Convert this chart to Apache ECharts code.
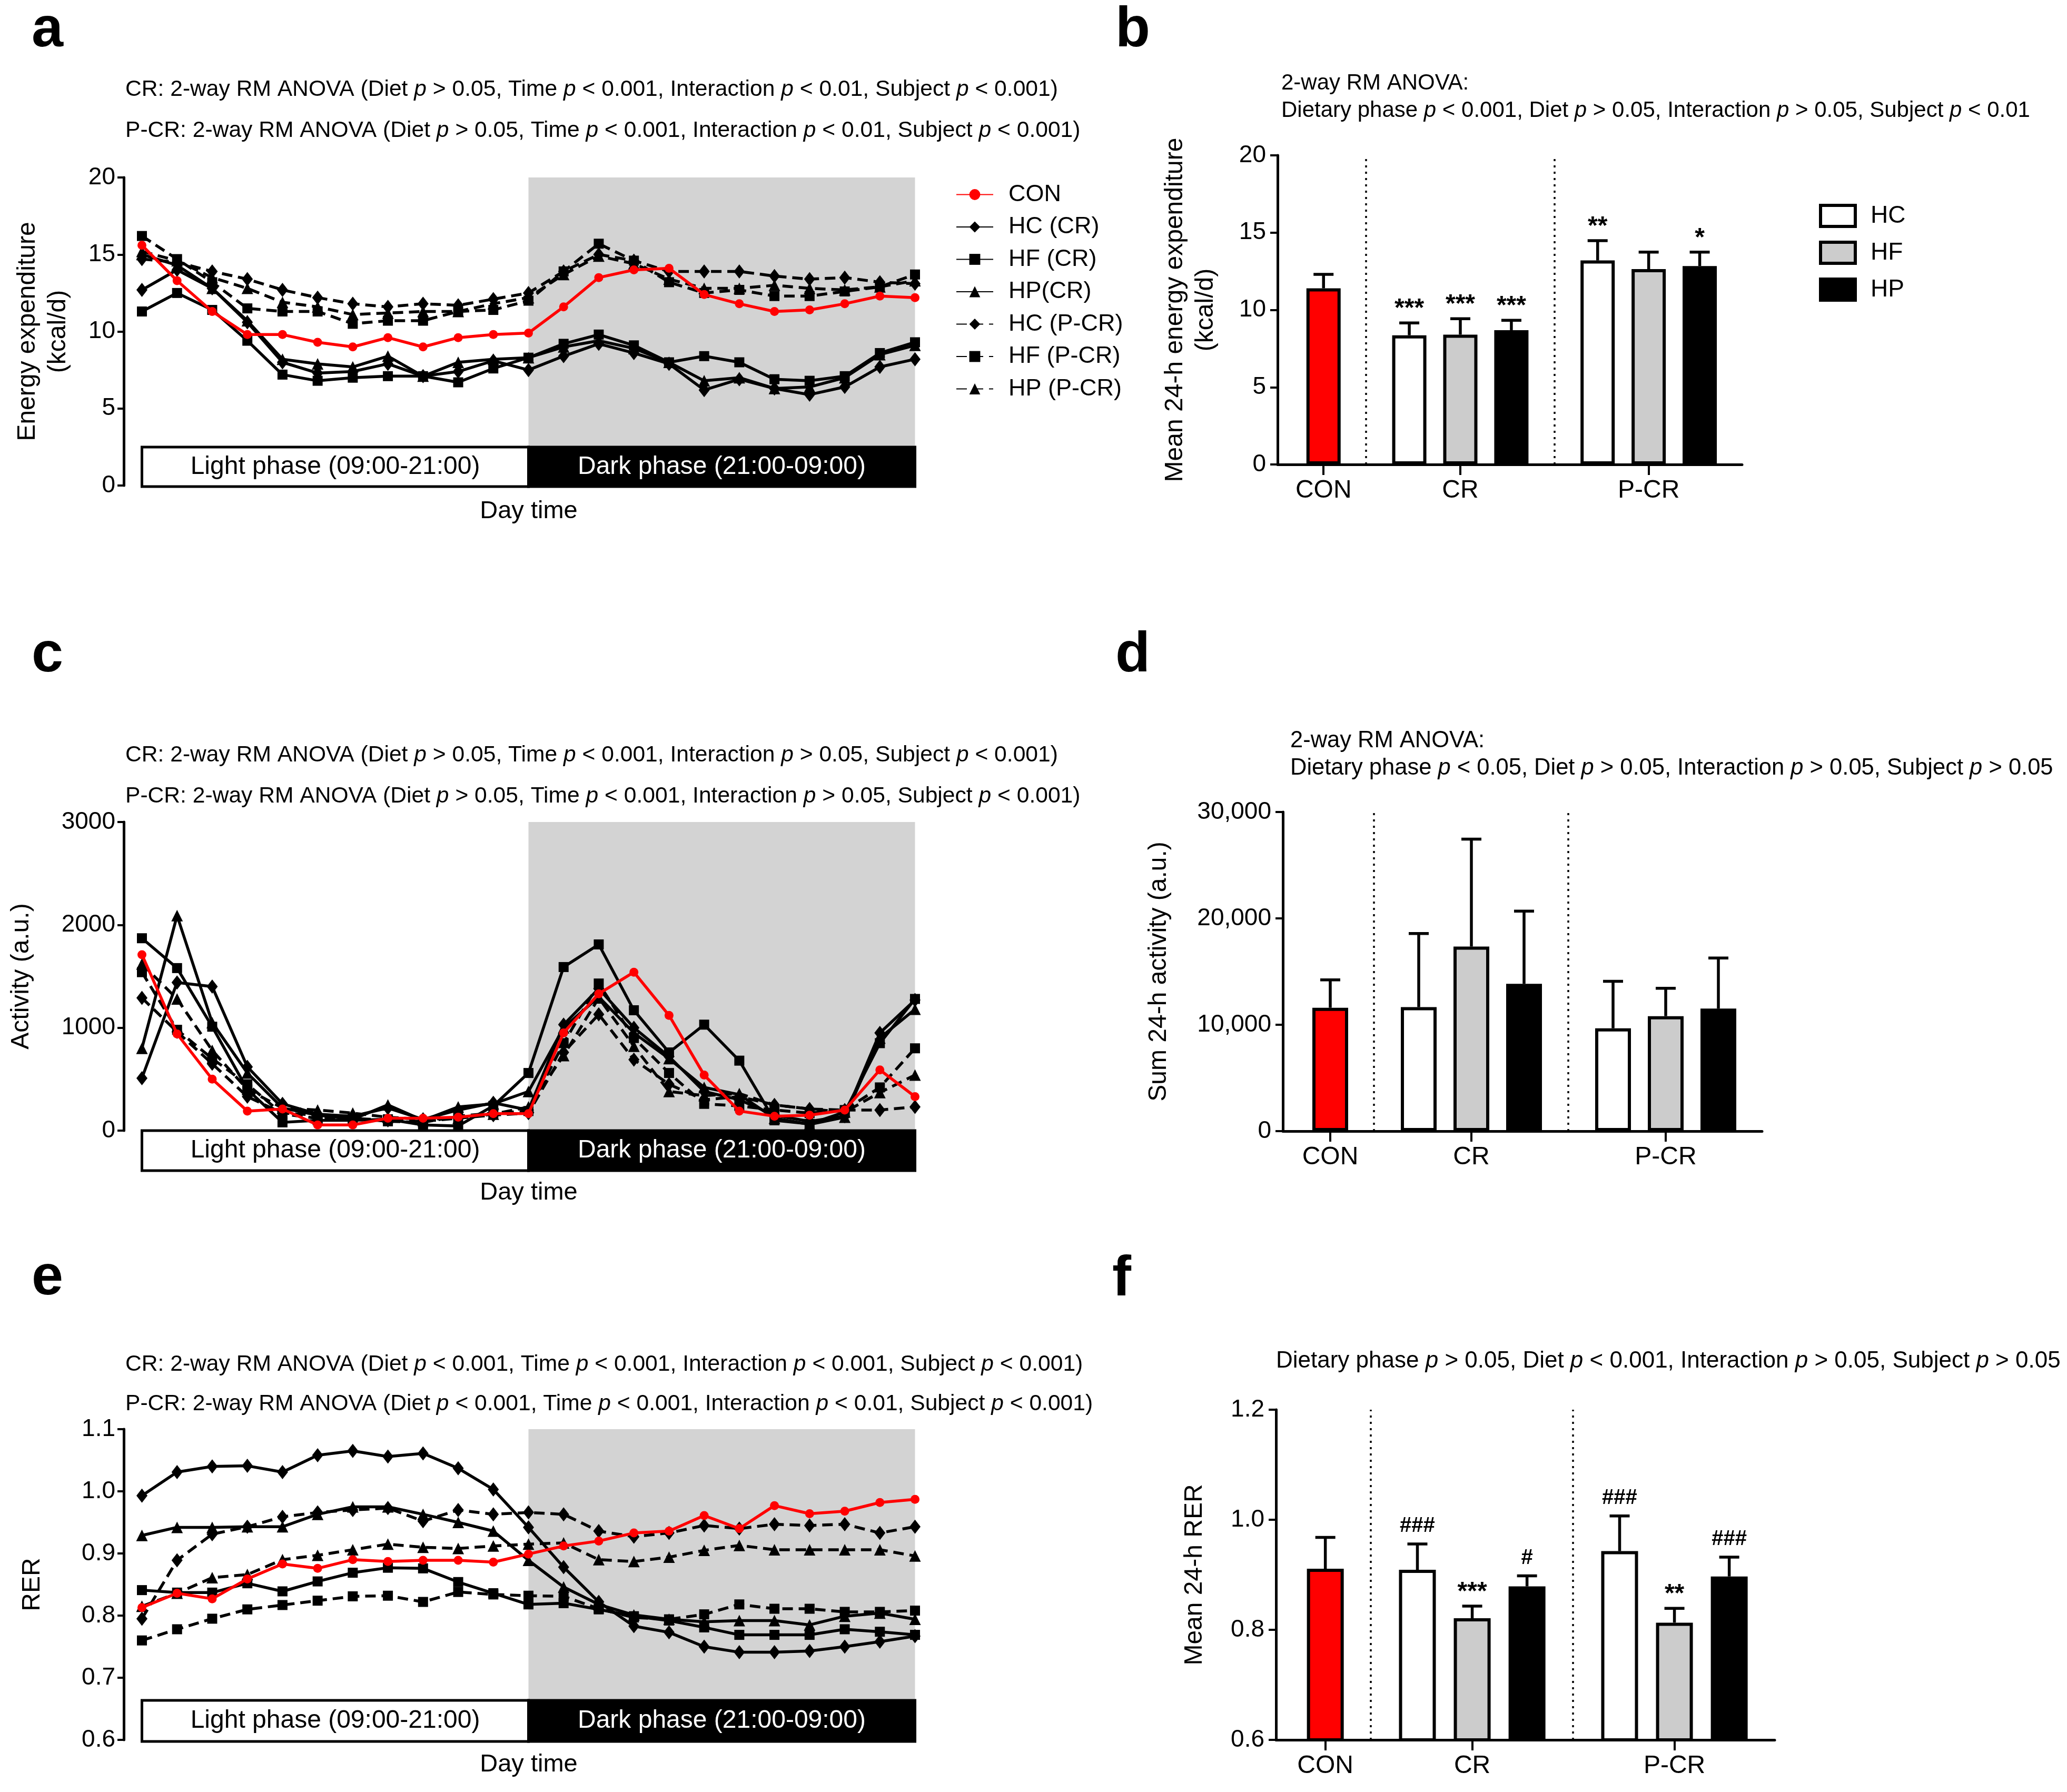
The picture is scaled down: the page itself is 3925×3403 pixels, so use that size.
<!DOCTYPE html>
<html>
<head>
<meta charset="utf-8">
<title>Energy expenditure, activity and RER</title>
<script src="https://cdn.jsdelivr.net/npm/echarts@6/dist/echarts.min.js"></script>
<style>
  html, body { margin: 0; padding: 0; background: #fff; }
  #chart { width: 3925px; height: 3403px; }
</style>
</head>
<body>
<div id="chart"></div>
<script>
// ---- data ----
const timePoints = ['10:00', '11:00', '12:00', '13:00', '14:00', '15:00', '16:00', '17:00', '18:00', '19:00', '20:00',
  '21:00', '22:00', '23:00', '00:00', '01:00', '02:00', '03:00', '04:00', '05:00', '06:00', '07:00', '08:00']
const lineGroups = ['CON', 'HC (CR)', 'HF (CR)', 'HP(CR)', 'HC (P-CR)', 'HF (P-CR)', 'HP (P-CR)']
const phaseNames = ['Light phase (09:00-21:00)', 'Dark phase (21:00-09:00)']
const darkStart = '21:00'

// a: energy expenditure (kcal/d)
const eeCON = [15.6, 13.3, 11.3, 9.8, 9.8, 9.3, 9.0, 9.6, 9.0, 9.6, 9.8, 9.9, 11.6, 13.5, 14.0, 14.1, 12.4, 11.8, 11.3, 11.4, 11.8, 12.3, 12.2]
const eeHC_CR = [12.7, 14.0, 12.8, 10.6, 8.0, 7.3, 7.4, 7.9, 7.1, 7.4, 8.1, 7.5, 8.4, 9.2, 8.6, 7.9, 6.2, 6.9, 6.3, 5.9, 6.4, 7.7, 8.2]
const eeHF_CR = [11.3, 12.5, 11.4, 9.4, 7.2, 6.8, 7.0, 7.1, 7.1, 6.7, 7.6, 8.3, 9.2, 9.8, 9.1, 8.0, 8.4, 8.0, 6.9, 6.8, 7.1, 8.6, 9.3]
const eeHP_CR = [15.0, 14.3, 12.8, 10.7, 8.2, 7.9, 7.7, 8.4, 7.1, 8.0, 8.2, 8.3, 9.0, 9.4, 8.9, 8.0, 6.8, 7.0, 6.3, 6.4, 7.0, 8.5, 9.1]
const eeHC_PCR = [14.7, 14.5, 13.9, 13.4, 12.7, 12.2, 11.8, 11.6, 11.8, 11.7, 12.1, 12.5, 13.9, 15.0, 14.6, 13.9, 13.9, 13.9, 13.6, 13.4, 13.5, 13.2, 13.1]
const eeHF_PCR = [16.2, 14.7, 13.2, 11.5, 11.3, 11.3, 10.5, 10.7, 10.7, 11.3, 11.4, 12.0, 13.9, 15.7, 14.6, 13.2, 12.5, 12.7, 12.3, 12.3, 12.6, 12.9, 13.7]
const eeHP_PCR = [15.2, 14.6, 13.5, 12.8, 11.9, 11.6, 11.1, 11.2, 11.3, 11.3, 11.8, 12.2, 13.7, 14.9, 14.4, 13.4, 12.8, 12.8, 13.0, 12.8, 12.7, 12.9, 13.3]

// c: activity (a.u.)
const actCON = [1710, 940, 500, 190, 210, 55, 55, 120, 120, 130, 165, 165, 950, 1330, 1540, 1120, 540, 190, 140, 150, 200, 590, 330]
const actHC_CR = [510, 1440, 1400, 620, 260, 160, 140, 220, 110, 200, 270, 200, 1030, 1380, 1000, 720, 380, 300, 150, 90, 140, 950, 1270]
const actHF_CR = [1870, 1580, 1010, 400, 80, 100, 100, 110, 55, 45, 240, 560, 1590, 1810, 1170, 760, 1030, 680, 100, 65, 180, 850, 1280]
const actHP_CR = [800, 2090, 1050, 560, 220, 150, 110, 250, 100, 230, 260, 380, 1000, 1300, 950, 700, 420, 350, 120, 60, 130, 900, 1180]
const actHC_PCR = [1290, 960, 650, 330, 170, 150, 120, 100, 90, 120, 150, 170, 760, 1130, 690, 450, 300, 330, 250, 210, 200, 200, 230]
const actHF_PCR = [1540, 980, 700, 450, 160, 120, 120, 90, 80, 140, 170, 190, 850, 1430, 900, 560, 260, 240, 200, 170, 200, 420, 800]
const actHP_PCR = [1620, 1280, 780, 400, 220, 200, 170, 130, 110, 120, 160, 230, 730, 1290, 820, 380, 340, 360, 250, 210, 180, 370, 540]

// e: RER
const rerCON = [0.813, 0.836, 0.827, 0.859, 0.883, 0.876, 0.890, 0.887, 0.889, 0.889, 0.886, 0.899, 0.912, 0.920, 0.933, 0.936, 0.961, 0.940, 0.977, 0.964, 0.968, 0.982, 0.987]
const rerHC_CR = [0.993, 1.031, 1.040, 1.041, 1.031, 1.058, 1.065, 1.056, 1.061, 1.037, 1.003, 0.942, 0.878, 0.822, 0.783, 0.773, 0.750, 0.741, 0.741, 0.743, 0.750, 0.758, 0.767]
const rerHF_CR = [0.841, 0.837, 0.837, 0.852, 0.839, 0.855, 0.869, 0.877, 0.876, 0.854, 0.836, 0.818, 0.820, 0.810, 0.799, 0.792, 0.781, 0.769, 0.769, 0.769, 0.778, 0.774, 0.769]
const rerHP_CR = [0.929, 0.942, 0.942, 0.943, 0.943, 0.963, 0.975, 0.975, 0.963, 0.950, 0.936, 0.889, 0.846, 0.818, 0.801, 0.794, 0.790, 0.792, 0.792, 0.785, 0.799, 0.804, 0.794]
const rerHC_PCR = [0.795, 0.889, 0.931, 0.943, 0.959, 0.966, 0.970, 0.973, 0.952, 0.970, 0.963, 0.966, 0.963, 0.936, 0.927, 0.933, 0.945, 0.940, 0.947, 0.945, 0.947, 0.933, 0.943]
const rerHF_PCR = [0.760, 0.778, 0.795, 0.810, 0.817, 0.824, 0.831, 0.832, 0.822, 0.838, 0.834, 0.832, 0.831, 0.811, 0.797, 0.794, 0.802, 0.818, 0.811, 0.811, 0.806, 0.806, 0.808]
const rerHP_PCR = [0.815, 0.836, 0.861, 0.866, 0.890, 0.897, 0.906, 0.915, 0.910, 0.908, 0.912, 0.915, 0.917, 0.890, 0.887, 0.894, 0.905, 0.913, 0.906, 0.906, 0.906, 0.906, 0.896]

// bar panels: one entry per bar, in drawing order
const barGroups = ['CON', 'CR', 'P-CR']
const barDiets = ['CON', 'HC', 'HF', 'HP', 'HC', 'HF', 'HP']
const eeMean = [11.4, 8.36, 8.4, 8.69, 13.2, 12.64, 12.84]
const eeErr = [0.9, 0.8, 1.03, 0.64, 1.28, 1.1, 0.9]
const eeSig = ['', '***', '***', '***', '**', '', '*']
const actMean = [11600, 11660, 17350, 13850, 9670, 10810, 11520]
const actErr = [2620, 6920, 10100, 6830, 4410, 2620, 4750]
const actSig = ['', '', '', '', '', '', '']
const rerMean = [0.911, 0.909, 0.821, 0.879, 0.943, 0.813, 0.897]
const rerErr = [0.057, 0.047, 0.022, 0.019, 0.064, 0.026, 0.035]
const rerSig = ['', '###', '***', '#', '###', '**', '###']

// ---- styles & layout ----
const FONT = "'Liberation Sans', Arial, Helvetica, sans-serif"
const DASH = [20, 11]
const LINE_STYLE = {
  'CON': { color: '#ff0000', symbol: 'circle', size: 17, type: 'solid', width: 5.5 },
  'HC (CR)': { color: '#000', symbol: 'diamond', size: [21, 27], type: 'solid', width: 5.5 },
  'HF (CR)': { color: '#000', symbol: 'rect', size: 19, type: 'solid', width: 5.5 },
  'HP(CR)': { color: '#000', symbol: 'triangle', size: 22, type: 'solid', width: 5.5 },
  'HC (P-CR)': { color: '#000', symbol: 'diamond', size: [21, 27], type: DASH, width: 5.5 },
  'HF (P-CR)': { color: '#000', symbol: 'rect', size: 19, type: DASH, width: 5.5 },
  'HP (P-CR)': { color: '#000', symbol: 'triangle', size: 22, type: DASH, width: 5.5 },
}
const BAR_COLOR = { CON: '#ff0000', HC: '#ffffff', HF: '#cccccc', HP: '#000000' }
const BAR_X = [0, 1.68, 2.68, 3.68, 5.37, 6.37, 7.37]
const GROUP_X = [0, 2.68, 6.37]
const SEP_X = [0.83, 4.52]

const LINE_LEFT = 269.5, LINE_W = 1468
const plain = v => String(v)
const linePanels = [
  { top: 337, h: 585, phaseTop: 849, phaseH: 75, min: 0, max: 20, step: 5, name: 'Energy expenditure\n(kcal/d)', gap: 95,
    fmt: plain, data: [eeCON, eeHC_CR, eeHF_CR, eeHP_CR, eeHC_PCR, eeHF_PCR, eeHP_PCR] },
  { top: 1561, h: 586, phaseTop: 2147, phaseH: 76, min: 0, max: 3000, step: 1000, name: 'Activity (a.u.)', gap: 165,
    fmt: plain, data: [actCON, actHC_CR, actHF_CR, actHP_CR, actHC_PCR, actHF_PCR, actHP_PCR] },
  { top: 2714, h: 590, phaseTop: 3229, phaseH: 78, min: 0.6, max: 1.1, step: 0.1, name: 'RER', gap: 144, fmt: v => v.toFixed(1),
    data: [rerCON, rerHC_CR, rerHF_CR, rerHP_CR, rerHC_PCR, rerHF_PCR, rerHP_PCR] },
]
const barPanels = [
  { left: 2426, w: 882, top: 295, h: 587, barW: 65, min: 0, max: 20, step: 5, name: 'Mean 24-h energy expenditure\n(kcal/d)', gap: 107,
    fmt: plain, mean: eeMean, err: eeErr, sig: eeSig },
  { left: 2436, w: 910, top: 1542, h: 606, barW: 68, min: 0, max: 30000, step: 10000, name: 'Sum 24-h activity (a.u.)', gap: 206,
    fmt: v => v.toLocaleString('en-US'), mean: actMean, err: actErr, sig: actSig },
  { left: 2423, w: 947, top: 2677, h: 627, barW: 70, min: 0.6, max: 1.2, step: 0.2, name: 'Mean 24-h RER', gap: 125,
    fmt: v => v.toFixed(1), mean: rerMean, err: rerErr, sig: rerSig },
]

const grids = [], xAxes = [], yAxes = [], series = []
const axisLine = { show: true, onZero: false, lineStyle: { color: '#000', width: 5 } }
const axisTick = { show: true, length: 12, lineStyle: { color: '#000', width: 4 } }
const nameStyle = { fontSize: 48, fontFamily: FONT, color: '#000', lineHeight: 58 }

linePanels.forEach(p => {
  const main = grids.length
  grids.push({ left: LINE_LEFT, width: LINE_W, top: p.top, height: p.h })
  xAxes.push({ type: 'category', gridIndex: main, data: timePoints, boundaryGap: false, show: false })
  yAxes.push({ type: 'value', gridIndex: main, min: p.min, max: p.max, interval: p.step, offset: 34.5,
    axisLine, axisTick, splitLine: { show: false },
    axisLabel: { fontSize: 46, fontFamily: FONT, color: '#000', margin: 16, formatter: p.fmt },
    name: p.name, nameLocation: 'middle', nameGap: p.gap, nameTextStyle: nameStyle })
  // grey dark-phase band
  series.push({ type: 'line', xAxisIndex: main, yAxisIndex: main, data: [], z: 0, silent: true,
    markArea: { silent: true, itemStyle: { color: '#d3d3d3' },
      data: [[{ xAxis: darkStart }, { xAxis: timePoints[timePoints.length - 1] }]] } })
  lineGroups.forEach((g, i) => {
    const s = LINE_STYLE[g]
    series.push({ type: 'line', name: g, xAxisIndex: main, yAxisIndex: main, data: p.data[i], clip: false,
      symbol: s.symbol, symbolSize: s.size, z: g === 'CON' ? 4 : 3,
      lineStyle: { color: s.color, width: s.width, type: s.type },
      itemStyle: { color: s.color, borderWidth: 0 } })
  })
  // phase bar below / inside the plot
  const ph = grids.length
  grids.push({ left: LINE_LEFT, width: LINE_W, top: p.phaseTop, height: p.phaseH })
  xAxes.push({ type: 'category', gridIndex: ph, data: timePoints, boundaryGap: false, show: false })
  yAxes.push({ type: 'value', gridIndex: ph, min: 0, max: 1, show: false })
  const phaseLabel = c => ({ show: true, position: 'inside', color: c, fontSize: 48, fontFamily: FONT })
  series.push({ type: 'line', xAxisIndex: ph, yAxisIndex: ph, data: [], z: 6, silent: true,
    markArea: { silent: true, data: [
      [{ xAxis: timePoints[0], yAxis: 0, name: phaseNames[0], itemStyle: { color: '#fff', borderColor: '#000', borderWidth: 5 }, label: phaseLabel('#000') },
       { xAxis: darkStart, yAxis: 1 }],
      [{ xAxis: darkStart, yAxis: 0, name: phaseNames[1], itemStyle: { color: '#000', borderColor: '#000', borderWidth: 5 }, label: phaseLabel('#fff') },
       { xAxis: timePoints[timePoints.length - 1], yAxis: 1 }],
    ] } })
})

barPanels.forEach(p => {
  const k = grids.length
  grids.push({ left: p.left, width: p.w, top: p.top, height: p.h })
  xAxes.push({ type: 'value', gridIndex: k, min: -0.9, max: 8.2, splitLine: { show: false },
    axisLine: { show: true, onZero: false, lineStyle: { color: '#000', width: 5 } },
    axisTick: { show: true, customValues: GROUP_X, length: 20, lineStyle: { color: '#000', width: 4 } },
    axisLabel: { customValues: GROUP_X, fontSize: 48, fontFamily: FONT, color: '#000', margin: 26,
      formatter: v => barGroups[GROUP_X.reduce((b, x, i) => Math.abs(x - v) < Math.abs(GROUP_X[b] - v) ? i : b, 0)] } })
  yAxes.push({ type: 'value', gridIndex: k, min: p.min, max: p.max, interval: p.step,
    axisLine, axisTick: { show: true, length: 14, lineStyle: { color: '#000', width: 4 } }, splitLine: { show: false },
    axisLabel: { fontSize: 46, fontFamily: FONT, color: '#000', margin: 22, formatter: p.fmt },
    name: p.name, nameLocation: 'middle', nameGap: p.gap, nameTextStyle: nameStyle })
  ;['CON', 'HC', 'HF', 'HP'].forEach(d => {
    const items = []
    barDiets.forEach((bd, i) => { if (bd === d) items.push([BAR_X[i], p.mean[i]]) })
    const s = { type: 'bar', name: d === 'CON' ? 'CON bar' : d, xAxisIndex: k, yAxisIndex: k, data: items,
      barWidth: p.barW, barGap: '-100%', z: 3,
      itemStyle: { color: BAR_COLOR[d], borderColor: '#000', borderWidth: 6 } }
    if (d === 'CON') {
      s.markLine = { silent: true, symbol: 'none', label: { show: false },
        lineStyle: { color: '#000', width: 3.5, type: [4, 8] }, data: SEP_X.map(x => ({ xAxis: x })) }
    }
    series.push(s)
  })
  series.push({ type: 'custom', xAxisIndex: k, yAxisIndex: k, z: 5, clip: false, silent: true,
    data: p.mean.map((m, i) => [BAR_X[i], m, p.err[i]]),
    renderItem(params, api) {
      const x = api.value(0), m = api.value(1), e = api.value(2)
      const lo = api.coord([x, m]), hi = api.coord([x, m + e])
      const ln = { stroke: '#000', lineWidth: 5.5 }
      const children = [
        { type: 'line', shape: { x1: lo[0], y1: lo[1], x2: hi[0], y2: hi[1] }, style: ln },
        { type: 'line', shape: { x1: hi[0] - 19, y1: hi[1], x2: hi[0] + 19, y2: hi[1] }, style: ln },
      ]
      const mark = p.sig[params.dataIndex]
      if (mark) {
        const hash = mark.indexOf('#') >= 0
        children.push({ type: 'text', x: hi[0], y: hi[1] - (hash ? 14 : 2),
          style: { text: mark, fontSize: hash ? 40 : 48, fontWeight: 'bold', fontFamily: FONT, fill: '#000',
            align: 'center', verticalAlign: 'bottom', textAlign: 'center', textVerticalAlign: 'bottom' } })
      }
      return { type: 'group', children }
    } })
})

// ---- texts ----
function text(x, y, str, size, extra) {
  return Object.assign({ type: 'text', x, y, silent: true, z: 10,
    style: Object.assign({ text: str, fontSize: size, fontFamily: FONT, fill: '#000',
      align: 'left', verticalAlign: 'middle', textAlign: 'left', textVerticalAlign: 'middle',
      rich: { i: { fontStyle: 'italic', fontSize: size, fontFamily: FONT, fill: '#000' } } }, extra || {}) })
}
const P = '{i|p}'
const graphics = [
  text(60, 58, 'a', 108, { fontWeight: 'bold' }),
  text(2118, 58, 'b', 108, { fontWeight: 'bold' }),
  text(60, 1245, 'c', 108, { fontWeight: 'bold' }),
  text(2118, 1245, 'd', 108, { fontWeight: 'bold' }),
  text(60, 2428, 'e', 108, { fontWeight: 'bold' }),
  text(2112, 2430, 'f', 108, { fontWeight: 'bold' }),
  text(238, 170, `CR: 2-way RM ANOVA (Diet ${P} > 0.05, Time ${P} < 0.001, Interaction ${P} < 0.01, Subject ${P} < 0.001)`, 42.6),
  text(238, 248, `P-CR: 2-way RM ANOVA (Diet ${P} > 0.05, Time ${P} < 0.001, Interaction ${P} < 0.01, Subject ${P} < 0.001)`, 42.6),
  text(238, 1434, `CR: 2-way RM ANOVA (Diet ${P} > 0.05, Time ${P} < 0.001, Interaction ${P} > 0.05, Subject ${P} < 0.001)`, 42.6),
  text(238, 1512, `P-CR: 2-way RM ANOVA (Diet ${P} > 0.05, Time ${P} < 0.001, Interaction ${P} > 0.05, Subject ${P} < 0.001)`, 42.6),
  text(238, 2591, `CR: 2-way RM ANOVA (Diet ${P} < 0.001, Time ${P} < 0.001, Interaction ${P} < 0.001, Subject ${P} < 0.001)`, 42.6),
  text(238, 2666, `P-CR: 2-way RM ANOVA (Diet ${P} < 0.001, Time ${P} < 0.001, Interaction ${P} < 0.01, Subject ${P} < 0.001)`, 42.6),
  text(2433, 158, '2-way RM ANOVA:', 42),
  text(2433, 210, `Dietary phase ${P} < 0.001, Diet ${P} > 0.05, Interaction ${P} > 0.05, Subject ${P} < 0.01`, 42),
  text(2450, 1407, '2-way RM ANOVA:', 43.5),
  text(2450, 1459, `Dietary phase ${P} < 0.05, Diet ${P} > 0.05, Interaction ${P} > 0.05, Subject ${P} > 0.05`, 43.5),
  text(2423, 2585, `Dietary phase ${P} > 0.05, Diet ${P} < 0.001, Interaction ${P} > 0.05, Subject ${P} > 0.05`, 44),
  text(1004, 971, 'Day time', 47, { align: 'center', textAlign: 'center' }),
  text(1004, 2265, 'Day time', 47, { align: 'center', textAlign: 'center' }),
  text(1004, 3351, 'Day time', 47, { align: 'center', textAlign: 'center' }),
]

const chart = echarts.init(document.getElementById('chart'))
chart.setOption({
  animation: false,
  backgroundColor: '#fff',
  grid: grids,
  xAxis: xAxes,
  yAxis: yAxes,
  legend: [
    { data: lineGroups, orient: 'vertical', left: 1810, top: 342, itemWidth: 70, itemHeight: 26, itemGap: 16.5,
      selectedMode: false, textStyle: { fontSize: 45, fontFamily: FONT, color: '#000', padding: [0, 0, 0, 24] } },
    { data: ['HC', 'HF', 'HP'], orient: 'vertical', left: 3449, top: 382, itemWidth: 66, itemHeight: 40, itemGap: 24,
      icon: 'rect', selectedMode: false, itemStyle: { borderColor: '#000', borderWidth: 6 },
      textStyle: { fontSize: 46, fontFamily: FONT, color: '#000', padding: [0, 0, 0, 24] } },
  ],
  graphic: graphics,
  series,
})
window.addEventListener('resize', () => chart.resize())
</script>
</body>
</html>
